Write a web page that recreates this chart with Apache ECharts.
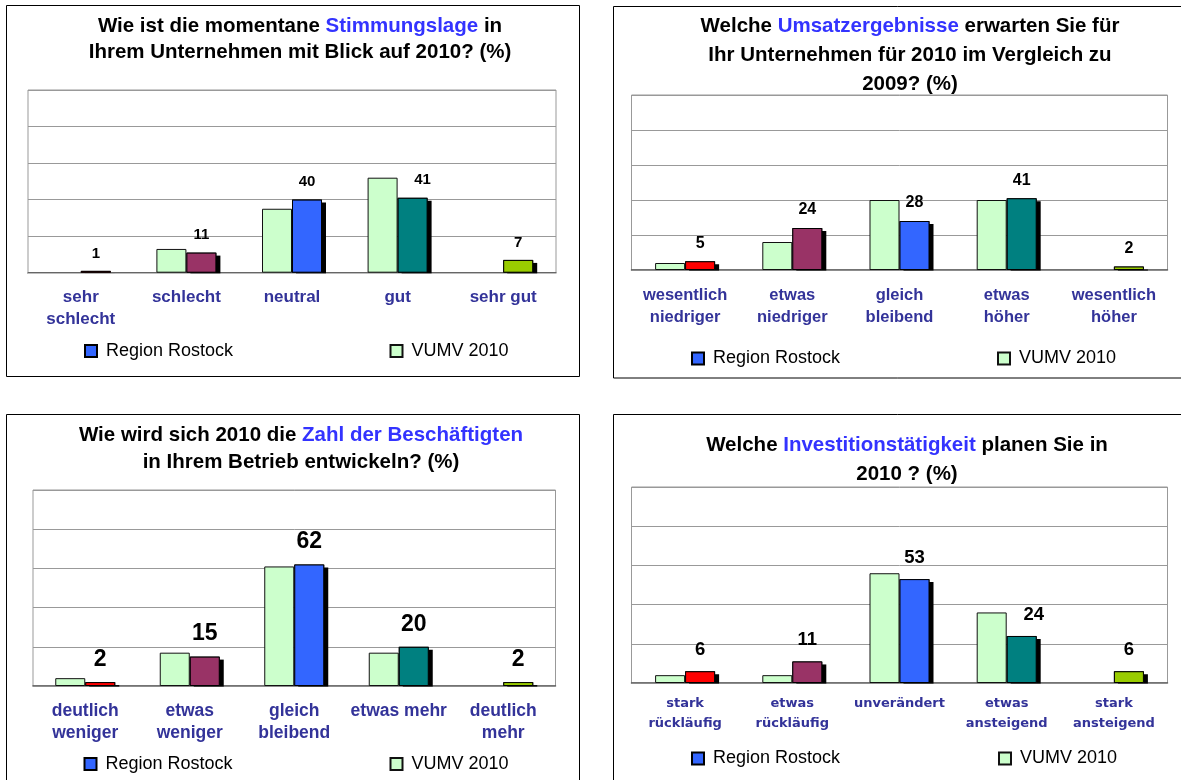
<!DOCTYPE html>
<html>
<head>
<meta charset="utf-8">
<script src="https://cdn.jsdelivr.net/npm/echarts@6/dist/echarts.min.js"></script>
<style>
html,body{margin:0;padding:0;background:#fff;}
#chart{width:1181px;height:780px;}
</style>
</head>
<body>
<div id="chart"></div>
<script>
// ---------- data ----------
const seriesNames = ['Region Rostock', 'VUMV 2010'];

const cats1 = ['sehr\nschlecht', 'schlecht', 'neutral', 'gut', 'sehr gut'];
const rostock1 = [1, 11, 40, 41, 7];
const vumv1 = [null, 13, 35, 52, null];

const cats2 = ['wesentlich\nniedriger', 'etwas\nniedriger', 'gleich\nbleibend', 'etwas\nhöher', 'wesentlich\nhöher'];
const rostock2 = [5, 24, 28, 41, 2];
const vumv2 = [4, 16, 40, 40, null];

const cats3 = ['deutlich\nweniger', 'etwas\nweniger', 'gleich\nbleibend', 'etwas mehr', 'deutlich\nmehr'];
const rostock3 = [2, 15, 62, 20, 2];
const vumv3 = [4, 17, 61, 17, null];

const cats4 = ['stark\nrückläufig', 'etwas\nrückläufig', 'unverändert', 'etwas\nansteigend', 'stark\nansteigend'];
const rostock4 = [6, 11, 53, 24, 6];
const vumv4 = [4, 4, 56, 36, null];

const titles = [
  ['Wie ist die momentane ', 'Stimmungslage', ' in\nIhrem Unternehmen mit Blick auf 2010? (%)'],
  ['Welche ', 'Umsatzergebnisse', ' erwarten Sie für\nIhr Unternehmen für 2010 im Vergleich zu\n2009? (%)'],
  ['Wie wird sich 2010 die ', 'Zahl der Beschäftigten', '\nin Ihrem Betrieb entwickeln? (%)'],
  ['Welche ', 'Investitionstätigkeit', ' planen Sie in\n2010 ? (%)']
];

const yMin = 0, yMax = 100, yStep = 20;

// ---------- styles / layout ----------
const FONT = '"Liberation Sans", Arial, sans-serif';
const categoryColors = ['#FF0000', '#993366', '#3366FF', '#008080', '#99CC00'];
const vumvColor = '#CCFFCC';

const panels = [
  {cats: cats1, rostock: rostock1, vumv: vumv1,
   box: [6.5, 5.5, 573, 371], grid: {left: 28, top: 90, width: 528, height: 182.7},
   titleX: 300, titleY: 13, titleLH: 26.5,
   labelFont: 17, labelFamily: FONT, labelLH: 22, labelMargin: 14,
   valueFont: 15, valueDist: 10, legendY: 351, legendX: [84, 389.5], shift: {3: [10, 0]}},
  {cats: cats2, rostock: rostock2, vumv: vumv2,
   box: [613.5, 6.5, 600, 371.5], grid: {left: 631.5, top: 95, width: 536, height: 175},
   titleX: 910, titleY: 12.5, titleLH: 28.6,
   labelFont: 16.5, labelFamily: FONT, labelLH: 22, labelMargin: 14,
   valueFont: 16, valueDist: 10, legendY: 358.5, legendX: [691, 997], shift: {}},
  {cats: cats3, rostock: rostock3, vumv: vumv3,
   box: [6.5, 414.5, 573, 400], grid: {left: 33, top: 490, width: 522.5, height: 196},
   titleX: 301, titleY: 422, titleLH: 26.7,
   labelFont: 17.5, labelFamily: FONT, labelLH: 22.3, labelMargin: 14,
   valueFont: 23, valueDist: 11, legendY: 764, legendX: [83.5, 389.5], shift: {}},
  {cats: cats4, rostock: rostock4, vumv: vumv4,
   box: [613.5, 414.5, 600, 400], grid: {left: 631.5, top: 487, width: 536, height: 196},
   titleX: 907, titleY: 431.5, titleLH: 28.3,
   labelFont: 13, labelFamily: '"DejaVu Sans", sans-serif', labelLH: 20, labelMargin: 10.5,
   valueFont: 18.5, valueDist: 12, legendY: 758.5, legendX: [691, 998], shift: {3: [12, 0]}}
];

// ---------- option ----------
const grids = [], xAxes = [], yAxes = [], series = [], legends = [], graphics = [];
const titleFont = 'bold 20.5px ' + FONT;

panels.forEach((p, i) => {
  graphics.push({
    type: 'rect', silent: true, z: 0,
    shape: {x: p.box[0], y: p.box[1], width: p.box[2], height: p.box[3]},
    style: {fill: 'none', stroke: '#000', lineWidth: 1}
  });
  // thin white strip under the baseline hides the bar shadows below the axis
  const g = p.grid;
  graphics.push({
    type: 'rect', silent: true, z: 100,
    shape: {x: g.left, y: g.top + g.height + 0.8, width: g.width + 8, height: 4},
    style: {fill: '#fff'}
  });
  const t = titles[i];
  graphics.push({
    type: 'text', silent: true, x: p.titleX, y: p.titleY,
    style: {
      text: t[0] + '{b|' + t[1] + '}' + t[2],
      font: titleFont, fill: '#000',
      align: 'center', textAlign: 'center', verticalAlign: 'top', textVerticalAlign: 'top',
      lineHeight: p.titleLH,
      rich: {b: {fill: '#3333FF', font: titleFont, lineHeight: p.titleLH}}
    }
  });

  grids.push(Object.assign({show: true, backgroundColor: '#fff', borderColor: '#999', borderWidth: 1,
    containLabel: false}, p.grid));

  // visible category axis (index 2i) and hidden twin (index 2i+1) for the outlined bars
  xAxes.push({
    type: 'category', gridIndex: i, data: p.cats,
    axisTick: {show: false},
    axisLine: {show: true, lineStyle: {color: '#555', width: 1.5}},
    axisLabel: {interval: 0, hideOverlap: false, color: '#333399', fontWeight: 'bold',
      fontSize: p.labelFont, fontFamily: p.labelFamily, lineHeight: p.labelLH, margin: p.labelMargin},
    splitLine: {show: false}
  });
  xAxes.push({type: 'category', gridIndex: i, data: p.cats, show: false});
  yAxes.push({
    type: 'value', gridIndex: i, min: yMin, max: yMax, interval: yStep,
    axisLabel: {show: false}, axisTick: {show: false}, axisLine: {show: false},
    splitLine: {show: true, lineStyle: {color: '#999', width: 1}}
  });

  const rostockItems = p.rostock.map((v, k) => {
    const item = {value: v, itemStyle: {color: categoryColors[k]}};
    if (p.shift[k]) item.label = {offset: p.shift[k]};
    return item;
  });

  series.push({
    type: 'bar', name: seriesNames[1], xAxisIndex: 2 * i, yAxisIndex: i,
    data: p.vumv, barWidth: 30, barGap: '0%',
    itemStyle: {color: vumvColor, borderColor: '#111', borderWidth: 1},
    emphasis: {disabled: true}, silent: true
  });
  // shadow layer of Region Rostock bars
  series.push({
    type: 'bar', name: seriesNames[0] + ' ', xAxisIndex: 2 * i, yAxisIndex: i,
    barWidth: 30, barGap: '0%',
    data: p.rostock.map(v => ({value: v, itemStyle: {color: '#000'}})),
    itemStyle: {color: '#000', borderWidth: 0,
      shadowColor: '#000', shadowBlur: 0, shadowOffsetX: 4, shadowOffsetY: 3},
    emphasis: {disabled: true}, silent: true
  });
  // placeholder keeping the same slot layout on the hidden twin axis
  series.push({
    type: 'bar', name: '_', xAxisIndex: 2 * i + 1, yAxisIndex: i,
    barWidth: 30, barGap: '0%', data: p.cats.map(() => null), silent: true
  });
  // outlined Region Rostock bars with labels
  series.push({
    type: 'bar', name: seriesNames[0], xAxisIndex: 2 * i + 1, yAxisIndex: i,
    barWidth: 30, barGap: '0%',
    data: rostockItems,
    itemStyle: {color: '#3366FF', borderColor: '#000', borderWidth: 1},
    label: {show: true, position: 'top', distance: p.valueDist, color: '#000',
      fontWeight: 'bold', fontSize: p.valueFont, fontFamily: FONT},
    emphasis: {disabled: true}, silent: true
  });

  seriesNames.forEach((nm, j) => {
    legends.push({
      show: true, data: [nm], left: p.legendX[j], top: p.legendY - 9,
      padding: 0, itemWidth: 12, itemHeight: 12, icon: 'rect', selectedMode: false,
      textStyle: {fontSize: 18, fontFamily: FONT, color: '#000', padding: [0, 0, 0, 4]},
      itemStyle: {shadowColor: 'rgba(0,0,0,0)', shadowBlur: 0, shadowOffsetX: 0, shadowOffsetY: 0}
    });
  });
});

const option = {
  backgroundColor: '#fff',
  animation: false,
  grid: grids, xAxis: xAxes, yAxis: yAxes, series: series,
  legend: legends, graphic: graphics
};

const chart = echarts.init(document.getElementById('chart'), null, {renderer: 'canvas'});
chart.setOption(option);
</script>
</body>
</html>
